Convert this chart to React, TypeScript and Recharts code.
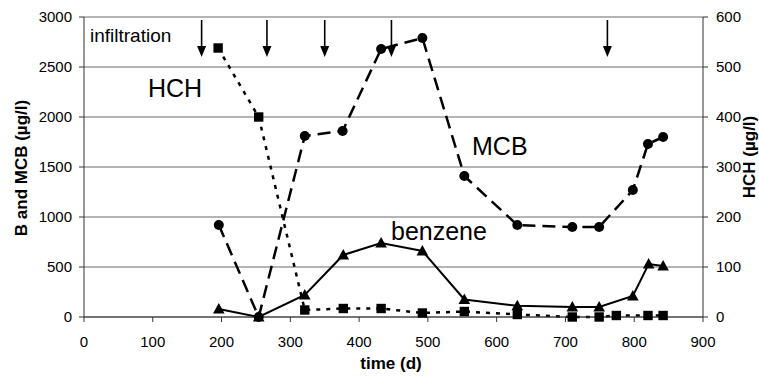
import React from 'react';
import { ComposedChart, Line, XAxis, YAxis, CartesianGrid, ReferenceLine, Customized } from 'recharts';

const xTicks = [0, 100, 200, 300, 400, 500, 600, 700, 800, 900];
const leftTicks = [0, 500, 1000, 1500, 2000, 2500, 3000];
const rightTicks = [0, 100, 200, 300, 400, 500, 600];

const mcbTimes = [196, 254, 321, 376, 432, 492, 553, 630, 710, 749, 798, 820, 842];
const mcbValues = [920, 0, 1810, 1860, 2680, 2790, 1410, 920, 900, 900, 1270, 1730, 1800];

const benzeneTimes = [196, 254, 321, 377, 432, 492, 553, 630, 710, 749, 798, 821, 842];
const benzeneValues = [80, 0, 220, 620, 740, 660, 175, 112, 100, 100, 210, 530, 510];

const hchTimes = [195, 254, 321, 377, 432, 492, 553, 630, 710, 749, 774, 820, 842];
const hchValues = [538, 400, 14, 17, 17, 8, 11, 5, 0, 0, 3, 3, 3];

const arrowTimes = [171, 266, 350, 447, 761];
const arrowTop = 2970;
const arrowTip = 2600;

const mcbData = mcbTimes.map((t, i) => ({ t, v: mcbValues[i] }));
const benzeneData = benzeneTimes.map((t, i) => ({ t, v: benzeneValues[i] }));
const hchData = hchTimes.map((t, i) => ({ t, v: hchValues[i] }));

const FONT = '"Liberation Sans", Arial, sans-serif';

const circleDot = (p: any) => (
  <circle key={p.key ?? `c${p.index}`} cx={p.cx} cy={p.cy} r={5} fill="#000" stroke="none" />
);
const squareDot = (p: any) => (
  <rect key={p.key ?? `s${p.index}`} x={p.cx - 4.7} y={p.cy - 4.7} width={9.4} height={9.4} fill="#000" stroke="none" />
);
const triangleDot = (p: any) => (
  <polygon
    key={p.key ?? `t${p.index}`}
    points={`${p.cx - 5.8},${p.cy + 4.5} ${p.cx + 5.8},${p.cy + 4.5} ${p.cx},${p.cy - 6}`}
    fill="#000"
    stroke="none"
  />
);

const arrowShape = (p: any) => {
  const { x1, y1, x2, y2 } = p;
  return (
    <g>
      <line x1={x1} y1={y1} x2={x2} y2={y2 - 8} stroke="#000" strokeWidth={1.6} />
      <polygon points={`${x2 - 4.5},${y2 - 11} ${x2 + 4.5},${y2 - 11} ${x2},${y2}`} fill="#000" />
    </g>
  );
};

const Annotations = () => (
  <g fontFamily={FONT} fill="#000">
    <text x={90} y={41.5} fontSize={19}>infiltration</text>
    <text x={148} y={97} fontSize={25}>HCH</text>
    <text x={472} y={155} fontSize={25}>MCB</text>
    <text x={391} y={240} fontSize={25}>benzene</text>
    <text x={391} y={369} fontSize={17} fontWeight="bold" textAnchor="middle">time (d)</text>
    <text x={27} y={168} fontSize={17} fontWeight="bold" textAnchor="middle" transform="rotate(-90 27 168)">B and MCB (µg/l)</text>
    <text x={755} y={157} fontSize={17} fontWeight="bold" textAnchor="middle" transform="rotate(-90 755 157)">HCH (µg/l)</text>
  </g>
);

const tickStyle = { fontSize: 15, fill: '#000', fontFamily: FONT };

export default function App() {
  return (
    <div style={{ position: 'absolute', left: 0, top: 0, background: '#fff' }}>
      <ComposedChart width={759} height={376} margin={{ top: 17, right: 0, bottom: 0, left: 0 }}>
        <CartesianGrid horizontal vertical={false} stroke="#6a6a6a" yAxisId="left" />
        <XAxis
          type="number"
          dataKey="t"
          domain={[0, 900]}
          ticks={xTicks}
          height={59}
          tick={tickStyle}
          tickSize={5}
          tickMargin={14}
          stroke="#333"
          allowDataOverflow
        />
        <YAxis
          yAxisId="left"
          orientation="left"
          domain={[0, 3000]}
          ticks={leftTicks}
          width={84}
          tick={tickStyle}
          tickSize={5}
          tickMargin={7}
          stroke="#333"
        />
        <YAxis
          yAxisId="right"
          orientation="right"
          domain={[0, 600]}
          ticks={rightTicks}
          width={56}
          tick={tickStyle}
          tickSize={5}
          tickMargin={8}
          stroke="#333"
        />
        {arrowTimes.map((t) => (
          <ReferenceLine
            key={`a${t}`}
            yAxisId="left"
            segment={[{ x: t, y: arrowTop }, { x: t, y: arrowTip }]}
            shape={arrowShape}
          />
        ))}
        <Line
          data={hchData}
          dataKey="v"
          yAxisId="right"
          stroke="#000"
          strokeWidth={2.5}
          strokeDasharray="4 6"
          dot={squareDot}
          activeDot={false}
          isAnimationActive={false}
        />
        <Line
          data={mcbData}
          dataKey="v"
          yAxisId="left"
          stroke="#000"
          strokeWidth={2.5}
          strokeDasharray="13 7"
          dot={circleDot}
          activeDot={false}
          isAnimationActive={false}
        />
        <Line
          data={benzeneData}
          dataKey="v"
          yAxisId="left"
          stroke="#000"
          strokeWidth={2}
          dot={triangleDot}
          activeDot={false}
          isAnimationActive={false}
        />
        <Customized component={Annotations} />
      </ComposedChart>
    </div>
  );
}
